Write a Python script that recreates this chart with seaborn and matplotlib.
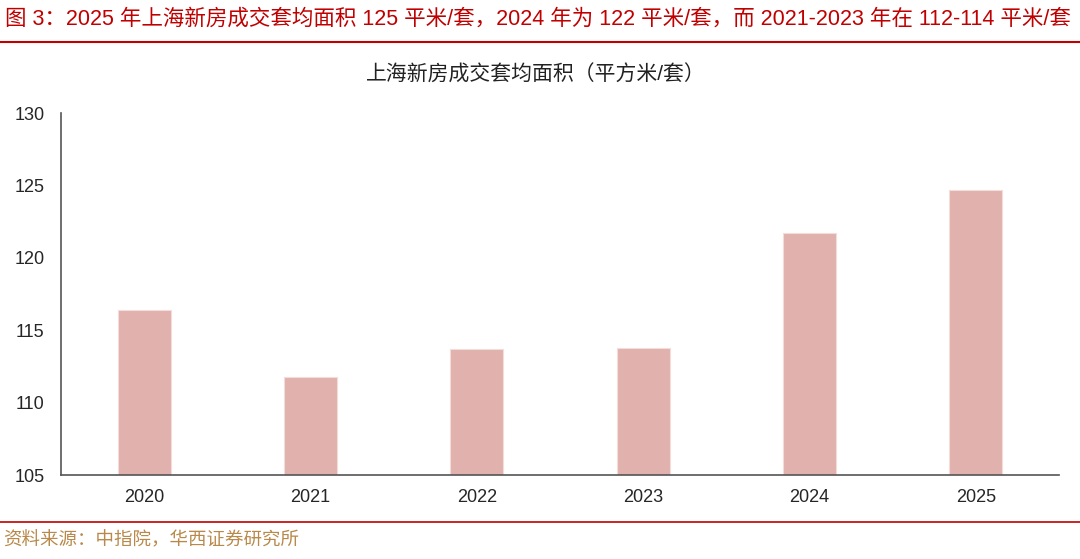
import matplotlib
matplotlib.use("Agg")
import matplotlib.pyplot as plt
import pandas as pd
import seaborn as sns

years = ["2020", "2021", "2022", "2023", "2024", "2025"]
area = [116.4, 111.8, 113.7, 113.8, 121.7, 124.7]

fig_title = "图 3：2025 年上海新房成交套均面积 125 平米/套，2024 年为 122 平米/套，而 2021-2023 年在 112-114 平米/套"
chart_title = "上海新房成交套均面积（平方米/套）"
source = "资料来源：中指院，华西证券研究所"

sns.set_style("white")
plt.rcParams["font.family"] = ["Liberation Sans", "Noto Sans CJK SC", "DejaVu Sans"]

df = pd.DataFrame({"year": years, "area": area})

fig = plt.figure(figsize=(10.8, 5.59), dpi=100)
ax = fig.add_axes([61 / 1080, 1 - 475 / 559, (1059 - 61) / 1080, (475 - 113) / 559])

sns.barplot(data=df, x="year", y="area", color="#e1b1ad", saturation=1,
            width=0.32, edgecolor="#f3dcda", linewidth=0.8, ax=ax)

ax.set_ylim(105, 130)
ax.set_yticks([105, 110, 115, 120, 125, 130])
ax.set_xlim(-0.5, len(years) - 0.5)
ax.set_xlabel("")
ax.set_ylabel("")

# x ticks sit between categories, labels in the middle
ax.set_xticks([i + 0.5 for i in range(len(years))])
ax.set_xticklabels([])
ax.set_xticks(range(len(years)), minor=True)
ax.set_xticklabels(years, minor=True)
ax.tick_params(axis="x", which="major", direction="in", length=5, width=1, color="#404040")
ax.tick_params(axis="x", which="minor", length=0, labelsize=13, pad=10)
ax.tick_params(axis="y", direction="in", length=5, width=1, color="#404040", labelsize=13, pad=12)

for s in ["top", "right"]:
    ax.spines[s].set_visible(False)
for s in ["left", "bottom"]:
    ax.spines[s].set_color("#555555")
    ax.spines[s].set_linewidth(1.2)

fig.text(536 / 1080, 1 - 75 / 559, chart_title, ha="center", va="center",
         fontsize=15, color="#222222")

fig.text(5 / 1080, 1 - 19 / 559, fig_title, ha="left", va="center", fontsize=15.5,
         color="#c00000")
fig.add_artist(plt.Line2D([0, 1], [1 - 42 / 559] * 2, color="#c00000", linewidth=1.5))
fig.add_artist(plt.Line2D([0, 1], [1 - 522 / 559] * 2, color="#c00000", linewidth=1.2))
fig.text(3 / 1080, 1 - 541 / 559, source, ha="left", va="center", fontsize=13.3,
         color="#b8894a")

fig.savefig("out.png", dpi=100)
